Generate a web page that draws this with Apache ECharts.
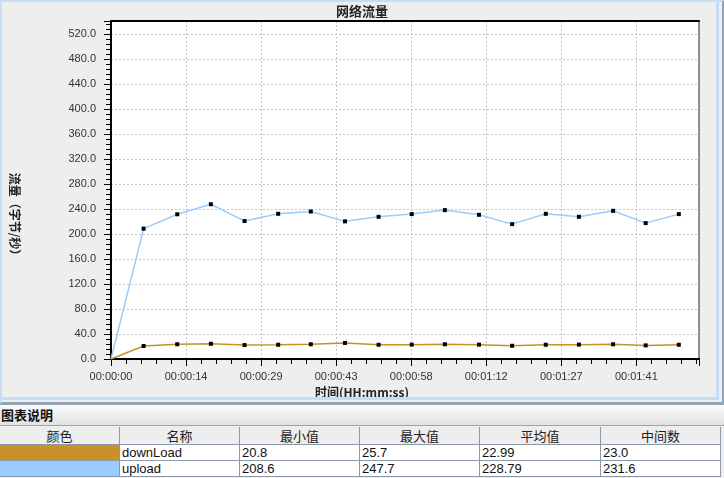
<!DOCTYPE html>
<html>
<head>
<meta charset="utf-8">
<script src="https://cdn.jsdelivr.net/npm/echarts@6/dist/echarts.min.js"></script>
<style>
  html, body { margin:0; padding:0; width:724px; height:478px; overflow:hidden; background:#EEEEEE;
    font-family: "Liberation Sans", Arial, "Noto Sans CJK SC", sans-serif; }
  #chart { position:absolute; left:0; top:0; width:724px; height:404px; }
  #frame { position:absolute; left:0; top:0; width:724px; height:404px; box-sizing:border-box; pointer-events:none;
    border-top:2px solid #C8DCF2; border-left:2px solid #C8DCF2; border-right:2px solid #8EA5C2; border-bottom:2px solid #8EA5C2; }
  #frame2 { position:absolute; left:2px; top:2px; width:717px; height:398px; box-sizing:border-box; pointer-events:none;
    border-right:3px solid #C8DCF2; border-bottom:3px solid #C8DCF2; }
  #legTitle { position:absolute; left:0; top:404px; width:724px; height:22px; box-sizing:border-box;
    border-top:1px solid #9AA6B5; border-bottom:1px solid #9AA6B5;
    background:linear-gradient(#FBFBFB, #E2E2E2); font: bold 13px "Noto Sans CJK SC", sans-serif; color:#111;
    line-height:20px; padding-left:1px; }
  .cell { position:absolute; box-sizing:border-box; border-right:1px solid #8C99A8; border-bottom:1px solid #8C99A8;
    font-size:13px; color:#111; white-space:nowrap; overflow:hidden; }
  .hd { background:#EEEEEE; text-align:center; font-family:"Noto Sans CJK SC", sans-serif; color:#222; }
  .dt { background:#FFFFFF; text-align:left; padding-left:2px; font-family:"Liberation Sans", Arial, sans-serif; }
</style>
</head>
<body>
<div id="chart"></div>
<div id="frame"></div>
<div id="frame2"></div>
<div id="legTitle">图表说明</div>
<div id="table"></div>
<script>
// ---- data ----
const times = [0, 6.3, 12.8, 19.3, 25.8, 32.3, 38.6, 45.2, 51.7, 58.1, 64.5, 71.1, 77.5, 84.0, 90.4, 97.0, 103.3, 109.7];
const downLoadValues = [0, 20.8, 23.6, 24.4, 22.3, 22.8, 23.6, 25.7, 22.8, 23.0, 23.6, 23.0, 21.2, 22.8, 23.0, 23.6, 21.8, 22.8];
const uploadValues = [0, 208.6, 231.6, 247.7, 220.8, 232.4, 236.1, 220.3, 227.6, 231.9, 238.3, 230.8, 215.9, 232.4, 227.6, 237.2, 217.5, 231.9];
const xTickLabels = ['00:00:00', '00:00:14', '00:00:29', '00:00:43', '00:00:58', '00:01:12', '00:01:27', '00:01:41'];
const seriesNames = ['downLoad', 'upload'];
const seriesColors = ['#C8912A', '#99CCFF'];
const tableHeaders = ['颜色', '名称', '最小值', '最大值', '平均值', '中间数'];
const minValues = ['20.8', '208.6'];
const maxValues = ['25.7', '247.7'];
const avgValues = ['22.99', '228.79'];
const medianValues = ['23.0', '231.6'];

// ---- table ----
const colX = [0, 120, 240, 360, 480, 601, 721];
const rowY = [427, 445, 461, 477];
const tbl = document.getElementById('table');
function addCell(x0, x1, y0, y1, cls, text, bg) {
  const d = document.createElement('div');
  d.className = 'cell ' + cls;
  d.style.left = x0 + 'px'; d.style.top = y0 + 'px';
  d.style.width = (x1 - x0) + 'px'; d.style.height = (y1 - y0) + 'px';
  d.style.lineHeight = (y1 - y0 - 1) + 'px';
  if (bg) d.style.background = bg;
  d.textContent = text;
  tbl.appendChild(d);
}
tableHeaders.forEach((h, i) => addCell(colX[i], colX[i + 1], rowY[0], rowY[1], 'hd', h));
seriesNames.forEach((n, r) => {
  const vals = ['', n, minValues[r], maxValues[r], avgValues[r], medianValues[r]];
  vals.forEach((v, i) => addCell(colX[i], colX[i + 1], rowY[r + 1], rowY[r + 2], 'dt', v, i === 0 ? seriesColors[r] : null));
});

// ---- chart ----
const chart = echarts.init(document.getElementById('chart'), null, { renderer: 'canvas' });
const X_INT = 14.5, X_MAX = 113.6, Y_MAX = 541;
function mk(values) {
  return times.map((t, i) => i === 0 ? { value: [t, values[i]], symbol: 'none' } : [t, values[i]]);
}
const tickFont = { fontFamily: '"Liberation Sans", Arial, sans-serif', fontSize: 11, color: '#333' };
const dashed = { color: '#C4C4C4', type: [2, 2], width: 1 };
chart.setOption({
  animation: false,
  backgroundColor: 'transparent',
  title: [{
    text: '网络流量', left: 'center', top: 4, padding: 0,
    textStyle: { fontFamily: '"Noto Sans CJK SC", sans-serif', fontWeight: 'bold', fontSize: 13, color: '#222', lineHeight: 15 }
  }, {
    text: '时间(HH:mm:ss)', left: 'center', top: 385, padding: 0,
    textStyle: { fontFamily: '"Noto Sans CJK SC", sans-serif', fontWeight: 'bold', fontSize: 12, color: '#222', lineHeight: 14 }
  }],
  graphic: [{
    type: 'text', x: 15, y: 217, rotation: -Math.PI / 2,
    style: { text: '流量（字节/秒）', align: 'center', verticalAlign: 'middle',
      font: 'bold 12px "Noto Sans CJK SC", sans-serif', fill: '#222' }
  }],
  grid: { left: 111, top: 21, width: 588, height: 338, show: true, backgroundColor: '#FFFFFF', borderWidth: 0,
    containLabel: false, outerBoundsMode: 'none' },
  xAxis: [{
    type: 'value', min: 0, max: X_MAX, interval: X_INT, position: 'bottom',
    axisLine: { show: true, onZero: false, lineStyle: { color: '#000', width: 2 } },
    axisTick: { show: true, length: 7, lineStyle: { color: '#000', width: 1 } },
    minorTick: { show: true, splitNumber: 5, length: 5, lineStyle: { color: '#000', width: 1 } },
    splitLine: { show: true, lineStyle: dashed },
    axisLabel: Object.assign({ margin: 12, showMaxLabel: false, showMinLabel: true, hideOverlap: false,
      formatter: v => xTickLabels[Math.round(v / X_INT)] || '' }, tickFont)
  }, {
    type: 'value', min: 0, max: X_MAX, position: 'top',
    axisLine: { show: true, onZero: false, lineStyle: { color: '#000', width: 2 } },
    axisTick: { show: false }, axisLabel: { show: false }, splitLine: { show: false }
  }],
  yAxis: [{
    type: 'value', min: 0, max: Y_MAX, interval: 40, position: 'left',
    axisLine: { show: true, onZero: false, lineStyle: { color: '#000', width: 2 } },
    axisTick: { show: true, length: 7, lineStyle: { color: '#000', width: 1 } },
    minorTick: { show: true, splitNumber: 5, length: 5, lineStyle: { color: '#000', width: 1 } },
    splitLine: { show: true, lineStyle: dashed },
    axisLabel: Object.assign({ margin: 15, showMaxLabel: false, hideOverlap: false,
      formatter: v => v.toFixed(1) }, tickFont)
  }, {
    type: 'value', min: 0, max: Y_MAX, position: 'right',
    axisLine: { show: true, onZero: false, lineStyle: { color: '#6E6E6E', width: 1.5 } },
    axisTick: { show: false }, axisLabel: { show: false }, splitLine: { show: false }
  }],
  series: [{
    name: seriesNames[1], type: 'line', xAxisIndex: 0, yAxisIndex: 0, data: mk(uploadValues),
    symbol: 'rect', symbolSize: 4, showAllSymbol: true,
    lineStyle: { color: seriesColors[1], width: 1.5 }, itemStyle: { color: '#000' }, z: 3
  }, {
    name: seriesNames[0], type: 'line', xAxisIndex: 0, yAxisIndex: 0, data: mk(downLoadValues),
    symbol: 'rect', symbolSize: 4, showAllSymbol: true,
    lineStyle: { color: seriesColors[0], width: 1.5 }, itemStyle: { color: '#000' }, z: 3
  }]
});
</script>
</body>
</html>
